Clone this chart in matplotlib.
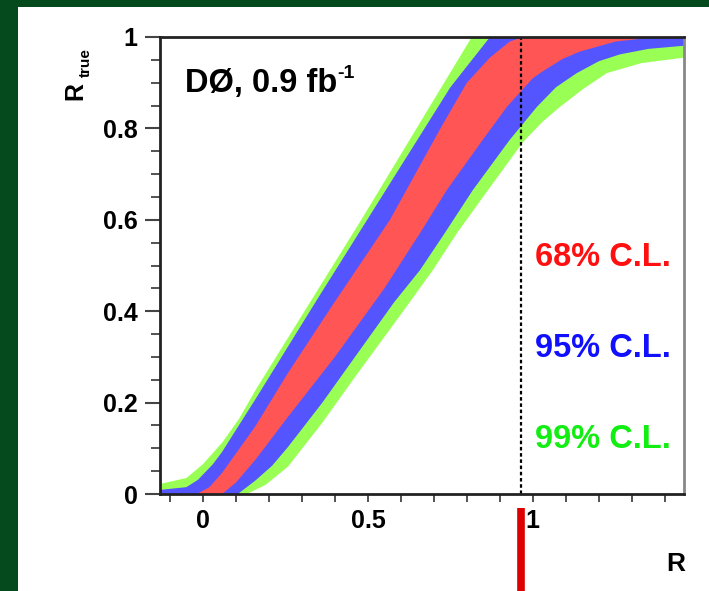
import matplotlib
matplotlib.use('Agg')
import matplotlib.pyplot as plt
from matplotlib.patches import Rectangle
from matplotlib.ticker import MultipleLocator

plt.rcParams['font.family'] = ['Liberation Sans', 'DejaVu Sans']
plt.rcParams['font.weight'] = 'bold'

# band edges: (R, R_true)
g_hi_x = [-0.13, -0.05, 0.0, 0.06, 0.11, 0.16, 0.48, 0.66, 0.815, 1.46]
g_hi_y = [0.022, 0.035, 0.065, 0.114, 0.165, 0.228, 0.60, 0.815, 1.0, 1.0]
g_lo_x = [-0.13, 0.133, 0.19, 0.258, 0.361, 0.461, 0.603, 0.697, 0.770, 0.864, 0.970, 1.03,
          1.082, 1.15, 1.224, 1.33, 1.46]
g_lo_y = [0.0, 0.0, 0.02, 0.06, 0.155, 0.256, 0.396, 0.49, 0.571, 0.665, 0.77, 0.815,
          0.847, 0.885, 0.921, 0.943, 0.955]

b_hi_x = [-0.13, -0.05, -0.015, 0.03, 0.058, 0.158, 0.35, 0.55, 0.75, 0.87, 1.46]
b_hi_y = [0.009, 0.015, 0.031, 0.065, 0.092, 0.206, 0.43, 0.66, 0.89, 1.0, 1.0]
b_lo_x = [-0.13, 0.106, 0.16, 0.21, 0.258, 0.361, 0.461, 0.58, 0.658, 0.733, 0.818, 0.93,
          1.012, 1.07, 1.133, 1.2, 1.264, 1.35, 1.46]
b_lo_y = [0.0, 0.0, 0.03, 0.062, 0.103, 0.199, 0.30, 0.42, 0.49, 0.571, 0.665, 0.775,
          0.847, 0.89, 0.921, 0.947, 0.962, 0.974, 0.981]

r_hi_x = [-0.13, -0.018, 0.02, 0.058, 0.158, 0.258, 0.39, 0.567, 0.72, 0.80, 0.87, 0.93, 0.97, 1.46]
r_hi_y = [0.0, 0.0, 0.015, 0.046, 0.147, 0.265, 0.41, 0.60, 0.80, 0.90, 0.955, 0.99, 1.0, 1.0]
r_lo_x = [-0.13, 0.058, 0.10, 0.158, 0.258, 0.40, 0.55, 0.658, 0.739, 0.848, 0.921, 1.0,
          1.03, 1.09, 1.142, 1.25, 1.35, 1.46]
r_lo_y = [0.0, 0.0, 0.025, 0.074, 0.169, 0.30, 0.45, 0.571, 0.665, 0.775, 0.847, 0.91,
          0.925, 0.952, 0.968, 0.99, 0.998, 1.0]

r_measured = 0.965
cl_labels = ['68% C.L.', '95% C.L.', '99% C.L.']
cl_text_y = [0.50, 0.30, 0.10]
cl_text_colors = ['#ff1010', '#1010ff', '#12ee12']

fig = plt.figure(figsize=(7.09, 5.91), dpi=100)
fig.patch.set_facecolor('#054a1c')
fig.patches.append(Rectangle((18 / 709, 0), 1, (591 - 7) / 591, transform=fig.transFigure,
                             facecolor='white', edgecolor='none', zorder=-10))

ax = fig.add_axes([160 / 709, 97 / 591, 524 / 709, 457 / 591])
ax.set_zorder(2)
ax.patch.set_alpha(0)
ax.set_xlim(-0.13, 1.458)
ax.set_ylim(0, 1)

def band(xh, yh, xl, yl, color):
    xs = list(xh) + list(xl)[::-1]
    ys = list(yh) + list(yl)[::-1]
    ax.fill(xs, ys, color=color, lw=0, zorder=1)

band(g_hi_x, g_hi_y, g_lo_x, g_lo_y, '#99ff55')
band(b_hi_x, b_hi_y, b_lo_x, b_lo_y, '#5555ff')
band(r_hi_x, r_hi_y, r_lo_x, r_lo_y, '#ff5555')

ax.plot([r_measured, r_measured], [0, 1], color='black', lw=1.6, dashes=(1.6, 1.2), zorder=3)
ax.plot([r_measured, r_measured], [-0.03, -0.22], color='#dd0000', lw=5.5,
        solid_capstyle='butt', clip_on=False, zorder=3)

for lab, yy, c in zip(cl_labels, cl_text_y, cl_text_colors):
    ax.text(1.006, yy, lab, color=c, fontsize=23.5, fontweight='bold', va='baseline', ha='left')

t = ax.text(-0.055, 0.88, 'DØ, 0.9 fb', fontsize=23.5, fontweight='bold', va='baseline', ha='left')
ax.annotate('-1', xy=(1, 1), xycoords=t, xytext=(0.5, 2), textcoords='offset points',
            fontsize=14, fontweight='bold', va='top', ha='left')

ax.xaxis.set_minor_locator(MultipleLocator(0.1))
ax.yaxis.set_minor_locator(MultipleLocator(0.05))
ax.set_xticks([0, 0.5, 1])
ax.set_xticklabels(['0', '0.5', '1'])
ax.set_yticks([0, 0.2, 0.4, 0.6, 0.8, 1])
ax.set_yticklabels(['0', '0.2', '0.4', '0.6', '0.8', '1'])
ax.tick_params(axis='x', which='both', length=6, width=1.3, color='#444444', direction='out',
               labelsize=18, pad=5)
ax.tick_params(axis='y', which='major', length=11, width=1.5, color='#444444', direction='out',
               labelsize=18, pad=5)
ax.tick_params(axis='y', which='minor', length=6.5, width=1.3, color='#444444', direction='out')
for lab in ax.get_xticklabels() + ax.get_yticklabels():
    lab.set_fontweight('bold')

for side in ['left', 'bottom', 'top']:
    ax.spines[side].set_linewidth(2)
    ax.spines[side].set_color('#222222')
ax.spines['right'].set_linewidth(2)
ax.spines['right'].set_color('#888888')
for s in ax.spines.values():
    s.set_zorder(4)

fig.text(75.5 / 709, (591 - 100) / 591, 'R', rotation=90, fontsize=18, fontweight='bold',
         ha='center', va='bottom')
fig.text(86 / 709, (591 - 77) / 591, 'true', rotation=90, fontsize=11, fontweight='bold',
         ha='center', va='bottom')
fig.text(675.5 / 709, (591 - 571) / 591, 'R', fontsize=19, fontweight='bold',
         ha='center', va='baseline')

fig.savefig('out.png', dpi=100, facecolor=fig.get_facecolor())
